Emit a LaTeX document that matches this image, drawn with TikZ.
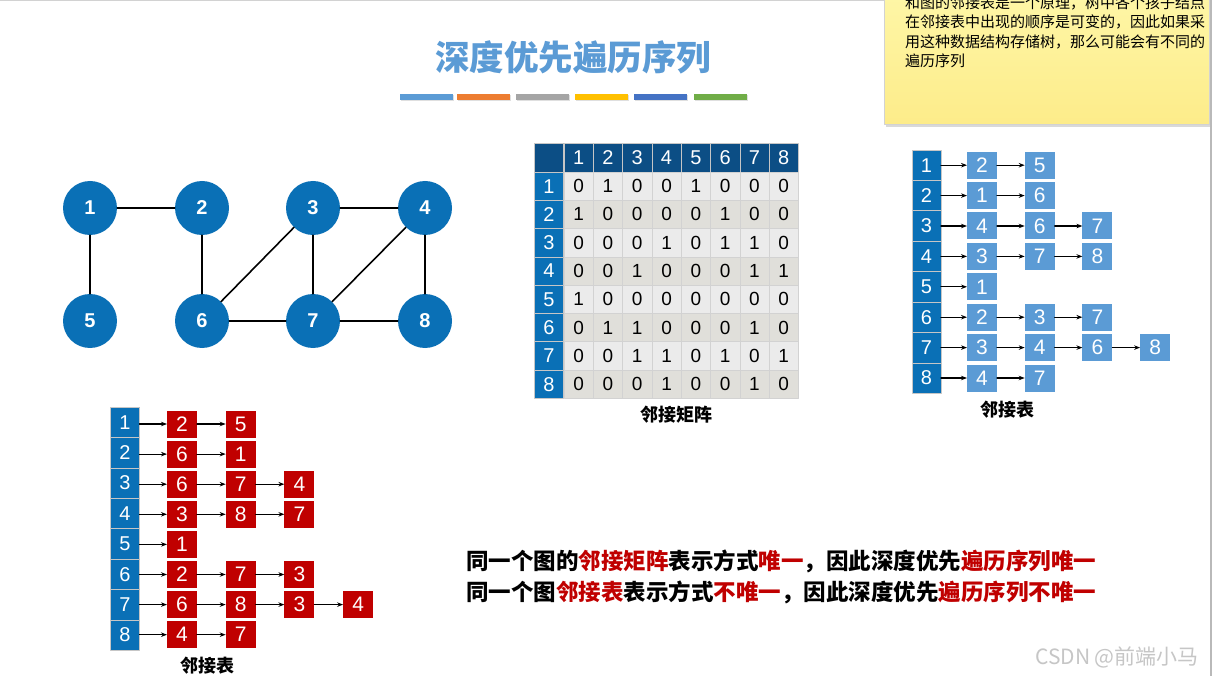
\documentclass[tikz,border=0pt]{standalone}
\usepackage{fontspec}
\setmainfont{Liberation Sans}
\newfontfamily\cjk{Noto Sans CJK SC}
\usetikzlibrary{arrows.meta}
\definecolor{vtxblue}{HTML}{0A70B6}
\definecolor{lightblue}{HTML}{5B9BD5}
\definecolor{navy}{HTML}{0C4E85}
\definecolor{darkred}{HTML}{C00000}
\definecolor{cellA}{HTML}{EBEBEB}
\definecolor{cellB}{HTML}{E0DFDA}
\definecolor{noteA}{HTML}{FEF6A6}
\definecolor{noteB}{HTML}{FDEC8A}

\begin{document}
\begin{tikzpicture}[x=1pt,y=-1pt,>={Stealth[length=6pt,width=4.5pt]},line cap=round,line join=round,
  vtx/.style={circle,fill=vtxblue,minimum size=54pt,inner sep=0pt,text=white,font=\fontsize{20}{22}\selectfont\bfseries},
  edge/.style={line width=1.6pt},
  hdr/.style={fill=navy,draw=gray!45,line width=0.6pt,minimum width=29.3pt,minimum height=29pt,inner sep=0pt,outer sep=0pt,text=white,font=\fontsize{20}{22}\selectfont},
  rowhd/.style={fill=vtxblue,draw=gray!45,line width=0.6pt,minimum width=29.3pt,minimum height=28.3pt,inner sep=0pt,outer sep=0pt,text=white,font=\fontsize{20}{22}\selectfont},
  oddcell/.style={fill=cellA,draw=gray!35,line width=0.6pt,minimum width=29.3pt,minimum height=28.3pt,inner sep=0pt,outer sep=0pt,font=\fontsize{19}{22}\selectfont},
  evencell/.style={oddcell,fill=cellB},
  headcell/.style={fill=vtxblue,draw=gray!45,line width=0.6pt,minimum width=29pt,minimum height=30.4pt,inner sep=0pt,outer sep=0pt,text=white,font=\fontsize{20}{22}\selectfont},
  listbox/.style={minimum width=30pt,minimum height=27pt,inner sep=0pt,outer sep=0pt,text=white,font=\fontsize{21}{23}\selectfont},
  arr/.style={->,line width=1.1pt},
  caption/.style={font=\cjk\bfseries\fontsize{18}{20}\selectfont},
  notetext/.style={anchor=west,inner sep=0pt,font=\cjk\fontsize{15}{18}\selectfont}]
\useasboundingbox (0,0) rectangle (1221,676);
\fill[white] (0,0) rectangle (1221,676);
\draw[gray!35,line width=1pt] (0,0.5) -- (884,0.5);
% sticky note
\fill[gray!30] (886,-5) rectangle (1211,127);
\shade[top color=noteA,bottom color=noteB,draw=gray!35,line width=0.6pt] (884,-5) rectangle (1209,124);
\node[notetext] (n1) at (905,3) {和图的邻接表是一个原理，树中各个孩子结点};
\node[notetext] (n2) at (905,22) {在邻接表中出现的顺序是可变的，因此如果采};
\node[notetext] (n3) at (905,41.5) {用这种数据结构存储树，那么可能会有不同的};
\node[notetext] (n4) at (905,61) {遍历序列};
\draw[gray!55,line width=1.8pt] (1211,0) -- (1211,676);
% title and colour bars
\node[font=\cjk\bfseries\fontsize{34.5}{38}\selectfont,text=lightblue] (title) at (573,57) {深度优先遍历序列};
\foreach \xa/\col in {400/5B9BD5,457/ED7D31,516/A5A5A5,575/FFC000,634/4472C4,694/70AD47}{
  \fill[gray!25] (\xa+1,95.5) rectangle (\xa+54,101.5);
  \definecolor{barcol}{HTML}{\col}
  \fill[barcol] (\xa,94) rectangle (\xa+53,100);
}
% graph
\node[vtx] (g1) at (90,208) {1};
\node[vtx] (g2) at (202,208) {2};
\node[vtx] (g3) at (313,208) {3};
\node[vtx] (g4) at (425,208) {4};
\node[vtx] (g5) at (90,321) {5};
\node[vtx] (g6) at (202,321) {6};
\node[vtx] (g7) at (313,321) {7};
\node[vtx] (g8) at (425,321) {8};
\draw[edge] (g1) -- (g2);
\draw[edge] (g1) -- (g5);
\draw[edge] (g2) -- (g6);
\draw[edge] (g3) -- (g4);
\draw[edge] (g3) -- (g6);
\draw[edge] (g3) -- (g7);
\draw[edge] (g4) -- (g7);
\draw[edge] (g4) -- (g8);
\draw[edge] (g6) -- (g7);
\draw[edge] (g7) -- (g8);
% adjacency matrix
\node[hdr] (m-0-0) at (549,157.5) {};
\foreach \c in {1,...,8}
  \node[hdr] (m-0-\c) at ({564+29.3*(\c-0.5)},157.5) {\c};
\foreach \r/\row in {1/{0,1,0,0,1,0,0,0},2/{1,0,0,0,0,1,0,0},3/{0,0,0,1,0,1,1,0},4/{0,0,1,0,0,0,1,1},
                     5/{1,0,0,0,0,0,0,0},6/{0,1,1,0,0,0,1,0},7/{0,0,1,1,0,1,0,1},8/{0,0,0,1,0,0,1,0}}{
  \ifodd\r\def\cellsty{oddcell}\else\def\cellsty{evencell}\fi
  \node[rowhd] (m-\r-0) at (549,{172+28.3*(\r-0.5)}) {\r};
  \foreach \v [count=\c] in \row
    \node[\cellsty] (m-\r-\c) at ({564+29.3*(\c-0.5)},{172+28.3*(\r-0.5)}) {\v};
}
\node[caption] (capm) at (676,415) {邻接矩阵};
% adjacency list (blue)
\foreach \r/\lst in {1/{2,5},2/{1,6},3/{4,6,7},4/{3,7,8},5/{1},6/{2,3,7},7/{3,4,6,8},8/{4,7}}{
  \node[headcell] (b-\r-0) at (926.5,{165.2+30.4*(\r-1)}) {\r};
  \foreach \v [count=\k, remember=\k as \p (initially 0)] in \lst {
    \node[listbox,fill=lightblue] (b-\r-\k) at ({982+57.7*(\k-1)},{165.2+30.4*(\r-1)}) {\v};
    \draw[arr] (b-\r-\p) -- (b-\r-\k);
  }
}
\node[caption] (capb) at (1007,410) {邻接表};
% adjacency list (red)
\foreach \r/\lst in {1/{2,5},2/{6,1},3/{6,7,4},4/{3,8,7},5/{1},6/{2,7,3},7/{6,8,3,4},8/{4,7}}{
  \node[headcell] (r-\r-0) at (125,{422.2+30.4*(\r-1)}) {\r};
  \foreach \v [count=\k, remember=\k as \p (initially 0)] in \lst {
    \node[listbox,fill=darkred] (r-\r-\k) at ({182+58.7*(\k-1)},{424+30.1*(\r-1)}) {\v};
    \draw[arr] (r-\r-\p.east |- r-\r-\k) -- (r-\r-\k);
  }
}
\node[caption] (capr) at (207,666) {邻接表};
% conclusions
\node[anchor=west,inner sep=0pt,font=\cjk\bfseries\fontsize{22.5}{26}\selectfont] (t1) at (466,561)
  {同一个图的\textcolor{darkred}{邻接矩阵}表示方式\textcolor{darkred}{唯一}，因此深度优先\textcolor{darkred}{遍历序列唯一}};
\node[anchor=west,inner sep=0pt,font=\cjk\bfseries\fontsize{22.5}{26}\selectfont] (t2) at (466,592)
  {同一个图\textcolor{darkred}{邻接表}表示方式\textcolor{darkred}{不唯一}，因此深度优先\textcolor{darkred}{遍历序列不唯一}};
% watermark
\node[anchor=west,inner sep=0pt,text=gray!45,font=\cjk\fontsize{21}{24}\selectfont] (wm) at (1035,657) {CSDN @前端小马};
\end{tikzpicture}
\end{document}
